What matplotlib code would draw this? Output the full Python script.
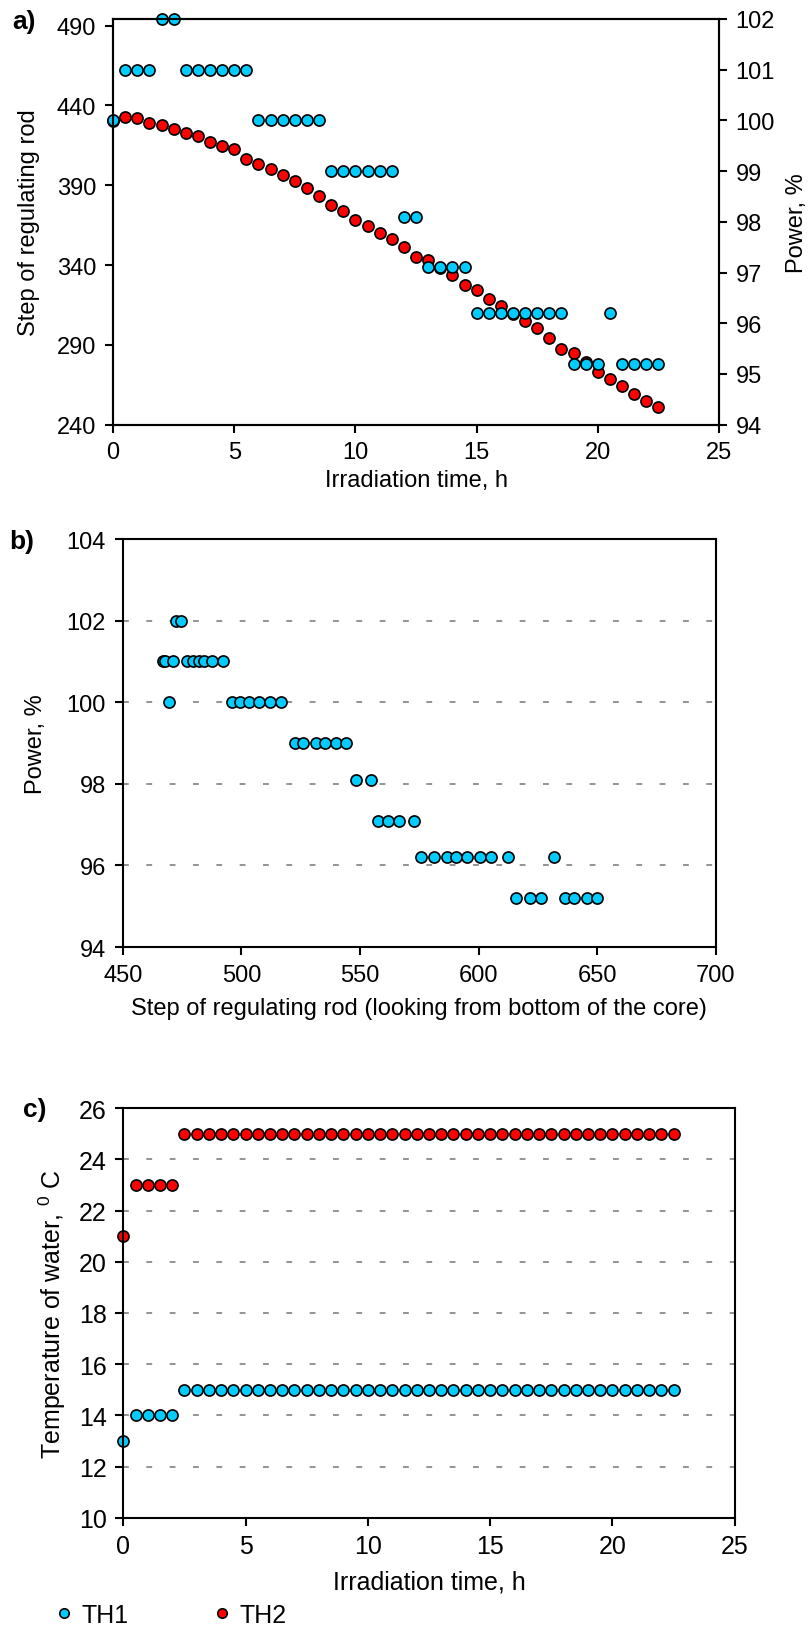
import numpy as np
import matplotlib
matplotlib.use('Agg')
import matplotlib.pyplot as plt

plt.rcParams['font.family'] = ['Liberation Sans', 'DejaVu Sans']
plt.rcParams['mathtext.fontset'] = 'custom'
plt.rcParams['mathtext.rm'] = 'Liberation Sans'

# cores dos marcadores (estilo Excel)
azul = '#00CCFF'
vermelho = '#FF0000'

# ---- painel a) ----
tempo_a = [0, 0.5, 1, 1.5, 2, 2.5, 3, 3.5, 4, 4.5, 5, 5.5, 6, 6.5, 7, 7.5, 8, 8.5,
           9, 9.5, 10, 10.5, 11, 11.5, 12, 12.5, 13, 13.5, 14, 14.5, 15, 15.5, 16, 16.5,
           17, 17.5, 18, 18.5, 19, 19.5, 20, 20.5, 21, 21.5, 22, 22.5]
passo_a = [430.3, 433.0, 432.2, 429.0, 427.6, 425.3, 423.0, 420.7, 417.3, 414.8, 412.6, 406.5,
           403.5, 400.2, 396.5, 392.8, 388.2, 383.5, 377.6, 374.0, 368.5, 364.2, 360.2, 356.4,
           351.2, 345.3, 343.0, 338.4, 333.6, 327.8, 324.4, 318.7, 314.2, 309.5, 304.9, 300.4,
           294.3, 287.4, 285.1, 279.0, 273.2, 268.6, 264.0, 259.4, 254.6, 251.3]
potencia_a = [100, 101, 101, 101, 102, 102, 101, 101, 101, 101, 101, 101,
              100, 100, 100, 100, 100, 100, 99, 99, 99, 99, 99, 99,
              98.1, 98.1, 97.1, 97.1, 97.1, 97.1, 96.2, 96.2, 96.2, 96.2, 96.2, 96.2,
              96.2, 96.2, 95.2, 95.2, 95.2, 96.2, 95.2, 95.2, 95.2, 95.2]

# ---- painel b) ----
passo_b = [469.7, 467.0, 467.8, 471.0, 472.4, 474.7, 477.0, 479.6, 482.2, 484.4, 487.8, 492.4,
           496.2, 499.4, 503.4, 507.3, 512.0, 516.6, 522.6, 526.1, 531.4, 535.4, 539.9, 544.0,
           548.5, 554.7, 557.7, 561.7, 566.5, 572.7, 575.7, 581.2, 586.6, 590.5, 595.3, 600.6,
           605.3, 612.3, 615.7, 621.7, 626.3, 631.9, 636.3, 640.4, 645.8, 649.8]
potencia_b = potencia_a

# ---- painel c) ----
tempo_c = tempo_a
th1 = [13, 14, 14, 14, 14] + [15] * 41
th2 = [21, 23, 23, 23, 23] + [25] * 41

fs = 17
estilo = dict(linestyle='none', marker='o', markersize=8, markeredgecolor='black',
              markeredgewidth=1.2, clip_on=False)
grade = dict(color='#808080', linewidth=1.2, linestyle=(0, (3.5, 10.5)))

fig = plt.figure(figsize=(8.08, 16.31), dpi=100)


def arrumar(ax, tam):
    for s in ax.spines.values():
        s.set_linewidth(1.5)
    ax.tick_params(direction='out', length=6, width=1.5, labelsize=tam, pad=6)


# a) passo da barra e potencia x tempo
ax1 = fig.add_axes([0.1399, 0.7390, 0.7500, 0.24877])
ax1.plot(tempo_a, passo_a, color=vermelho, **estilo)
ax1.set_xlim(0, 25)
ax1.set_ylim(240, 494.2)
ax1.set_xticks(np.arange(0, 26, 5))
ax1.set_yticks(np.arange(240, 491, 50))
ax1.set_xlabel('Irradiation time, h', fontsize=fs, labelpad=4)
ax1.set_ylabel('Step of regulating rod', fontsize=fs, labelpad=12)
arrumar(ax1, fs)
ax2 = ax1.twinx()
ax2.plot(tempo_a, potencia_a, color=azul, **estilo)
ax2.set_ylim(94, 102)
ax2.set_yticks(np.arange(94, 103, 1))
ax2.set_ylabel('Power, %', fontsize=fs, labelpad=8)
arrumar(ax2, fs)
fig.text(0.015, 0.9865, 'a)', fontsize=19, fontweight='bold', va='center')

# b) potencia x passo da barra
ax3 = fig.add_axes([0.15186, 0.41876, 0.73404, 0.25015])
for v in [96, 98, 100, 102]:
    ax3.axhline(v, zorder=0, **grade)
ax3.plot(passo_b, potencia_b, color=azul, **estilo)
ax3.set_xlim(450, 700)
ax3.set_ylim(94, 104)
ax3.set_xticks(np.arange(450, 701, 50))
ax3.set_yticks(np.arange(94, 105, 2))
ax3.set_xlabel('Step of regulating rod (looking from bottom of the core)', fontsize=fs, labelpad=8)
ax3.set_ylabel('Power, %', fontsize=fs, labelpad=14)
arrumar(ax3, fs)
fig.text(0.012, 0.6675, 'b)', fontsize=19, fontweight='bold', va='center')

# c) temperatura da agua x tempo
fc = 18
ax4 = fig.add_axes([0.1526, 0.06885, 0.7567, 0.25102])
for v in range(12, 25, 2):
    ax4.axhline(v, zorder=0, **grade)
ax4.plot(tempo_c, th1, color=azul, label='TH1', **estilo)
ax4.plot(tempo_c, th2, color=vermelho, label='TH2', **estilo)
ax4.set_xlim(0, 25)
ax4.set_ylim(10, 26)
ax4.set_xticks(np.arange(0, 26, 5))
ax4.set_yticks(np.arange(10, 27, 2))
ax4.set_xlabel('Irradiation time, h', fontsize=fc, labelpad=8)
ax4.set_ylabel(r'Temperature of water, $^{0}$ C', fontsize=fc, labelpad=8)
arrumar(ax4, fc)
fig.text(0.028, 0.3193, 'c)', fontsize=19, fontweight='bold', va='center')

# legenda embaixo, junto a borda como no original
ax4.legend(loc='center left', bbox_to_anchor=(0.055, 0.0095), bbox_transform=fig.transFigure,
           ncol=2, frameon=False, fontsize=fc, handlelength=0.6, handletextpad=0.4,
           columnspacing=3.4, markerscale=0.85, borderpad=0)

fig.savefig('out.png', dpi=100)
